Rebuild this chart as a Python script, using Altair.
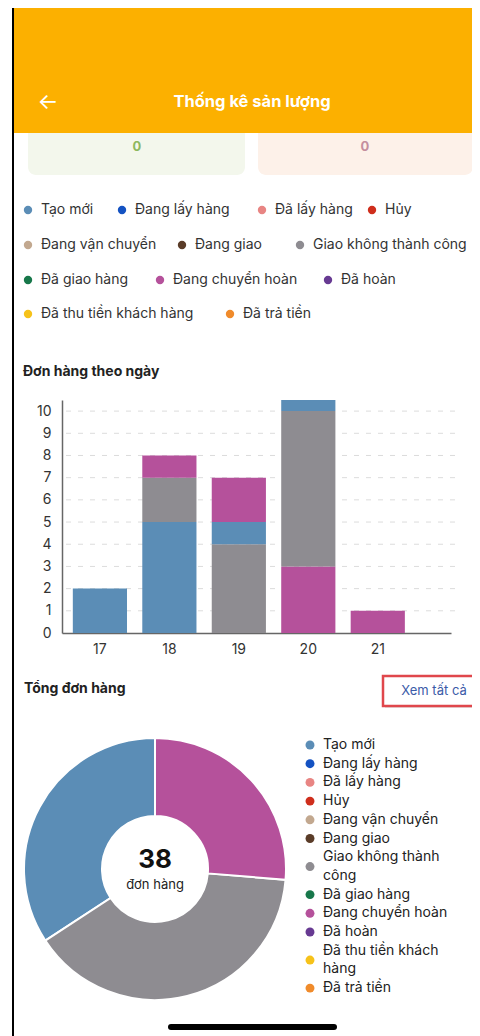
import altair as alt
import pandas as pd

FONT = "Inter"

# ---------------- data ----------------
statuses = ["Tạo mới", "Đang lấy hàng", "Đã lấy hàng", "Hủy", "Đang vận chuyển",
            "Đang giao", "Giao không thành công", "Đã giao hàng", "Đang chuyển hoàn",
            "Đã hoàn", "Đã thu tiền khách hàng", "Đã trả tiền"]
colors = ["#5b8db6", "#1452c2", "#e88583", "#cf2e1c", "#c2a88f", "#5a3c28",
          "#8e8c91", "#17774a", "#b5519b", "#673a92", "#f6c21a", "#f08b2b"]

days = ["17", "18", "19", "20", "21"]
seg_day = ["17", "18", "18", "18", "19", "19", "19", "20", "20", "20", "20", "20", "21"]
seg_status = ["Tạo mới", "Tạo mới", "Giao không thành công", "Đang chuyển hoàn",
              "Giao không thành công", "Tạo mới", "Đang chuyển hoàn",
              "Đang chuyển hoàn", "Giao không thành công", "Tạo mới",
              "Giao không thành công", "Đang chuyển hoàn", "Đang chuyển hoàn"]
seg_value = [2, 5, 2, 1, 4, 1, 2, 3, 7, 5, 2, 3, 1]
y_ticks = list(range(0, 11))

donut_total = [13, 0, 0, 0, 0, 0, 15, 0, 10, 0, 0, 0]
donut_order = ["Đang chuyển hoàn", "Giao không thành công", "Tạo mới"]

card_values = ["0", "0"]

# ---------------- layout (pixels) ----------------
W, H = 464, 1028
top_row = [0, 0, 0, 0, 1, 1, 1, 2, 2, 2, 3, 3]
top_dot_x = [20, 114, 254, 364, 20, 174, 292, 20, 152, 320, 20, 222]
top_row_y = [202, 237, 272, 306]
wraps = {"Giao không thành công": ["Giao không thành", "công"],
         "Đã thu tiền khách hàng": ["Đã thu tiền khách", "hàng"]}
leg_y0, leg_step, leg_dot_x, leg_text_x = 737, 18.7, 302, 315

one = pd.DataFrame({"a": [0]})
cscale = alt.Scale(domain=statuses, range=colors)


def txt(s, x, y, size, color, weight="normal", align="left"):
    return alt.Chart(one).mark_text(
        text=s, align=align, baseline="middle", fontSize=size,
        fontWeight=weight, color=color, font=FONT
    ).encode(x=alt.value(x), y=alt.value(y))


def box(x1, x2, y1, y2, fill, r=0, stroke=None, sw=0):
    kw = dict(fill=fill, cornerRadius=r)
    if stroke:
        kw.update(stroke=stroke, strokeWidth=sw)
    return alt.Chart(one).mark_rect(**kw).encode(
        x=alt.value(x1), x2=alt.value(x2), y=alt.value(y1), y2=alt.value(y2))


# ---------------- header / cards ----------------
layers = []
layers.append(box(20, 237, 110, 167, "#f3f7ec", r=8))
layers.append(box(250, 465, 110, 167, "#fdf1e9", r=8))
layers.append(txt(card_values[0], 129, 139, 13, "#8db85f", "bold", "center"))
layers.append(txt(card_values[1], 357, 139, 13, "#c48e9e", "bold", "center"))
layers.append(box(6, W, 0, 125, "#fcb000"))
layers.append(txt("←", 40, 94, 22, "white", "normal", "center"))
layers.append(txt("Thống kê sản lượng", 244, 94, 16.5, "white", "bold", "center"))
layers.append(box(4, 6, 0, H, "black"))

# ---------------- top legend ----------------
top_df = pd.DataFrame({
    "status": statuses,
    "col": colors,
    "px": top_dot_x,
    "py": [top_row_y[r] for r in top_row],
})
top_df["tx"] = top_df["px"] + 13
layers.append(alt.Chart(top_df).mark_circle(size=70, opacity=1).encode(
    x=alt.X("px:Q", scale=None), y=alt.Y("py:Q", scale=None),
    fill=alt.Fill("col:N", scale=None)))
layers.append(alt.Chart(top_df).mark_text(
    align="left", baseline="middle", fontSize=14, color="#333", font=FONT).encode(
    x=alt.X("tx:Q", scale=None), y=alt.Y("py:Q", scale=None), text="status:N"))

# ---------------- bar chart ----------------
layers.append(txt("Đơn hàng theo ngày", 15, 364, 14, "#222", "bold"))
bar_df = pd.DataFrame({"day": seg_day, "status": seg_status, "value": seg_value})
bar_df["ord"] = bar_df.groupby("day").cumcount()
yscale = alt.Scale(domain=[0, 10.5], range=[625, 392], clamp=True)
yaxis = alt.Axis(title=None, orient="left", values=y_ticks, ticks=False, grid=False,
                 domainColor="#666", domainWidth=1.5, labelFontSize=14,
                 labelColor="#333", labelFont=FONT, labelPadding=11, offset=-54)
grid_df = pd.DataFrame({"v": y_ticks[1:]})
grid = alt.Chart(grid_df).mark_rule(strokeDash=[5, 7], color="#dcdcdc", strokeWidth=1).encode(
    y=alt.Y("v:Q", scale=yscale, axis=yaxis), x=alt.value(58), x2=alt.value(449))
bars = alt.Chart(bar_df).mark_bar().encode(
    x=alt.X("day:N", sort=days,
            scale=alt.Scale(domain=days, range=[54, 443], paddingInner=0.22,
                            paddingOuter=0.41, align=0.19),
            axis=alt.Axis(title=None, orient="bottom", labelAngle=0, ticks=False, grid=False,
                          domainColor="#666", domainWidth=1.5, labelFontSize=14,
                          labelColor="#333", labelFont=FONT, labelPadding=9,
                          offset=-(H - 625))),
    y=alt.Y("value:Q", stack="zero", scale=yscale, axis=yaxis),
    color=alt.Color("status:N", scale=cscale, legend=None),
    order=alt.Order("ord:Q"),
)
layers.append(alt.layer(grid, bars))

# ---------------- donut ----------------
layers.append(txt("Tổng đơn hàng", 16, 681, 14, "#222", "bold"))
layers.append(box(377, W, 670, 700, "#e6e6e6"))
layers.append(box(375, W + 4, 668, 698, "white", stroke="#e0474c", sw=2.5))
layers.append(txt("Xem tất cả", 426, 683, 13, "#3b5ba8", "normal", "center"))

donut_df = pd.DataFrame({"status": statuses, "n": donut_total})
donut_df = donut_df[donut_df["n"] > 0].copy()
donut_df["ord"] = donut_df["status"].map({s: i for i, s in enumerate(donut_order)})
layers.append(alt.Chart(donut_df).mark_arc(
    innerRadius=53, outerRadius=131, stroke="white", strokeWidth=2).encode(
    theta=alt.Theta("n:Q", stack=True),
    color=alt.Color("status:N", scale=cscale, legend=None),
    order=alt.Order("ord:Q"),
    x=alt.value(147), y=alt.value(861)))
layers.append(txt(str(sum(donut_total)), 147, 852, 26, "#111", "bold", "center"))
layers.append(txt("đơn hàng", 147, 877, 13, "#222", "normal", "center"))

# right legend
dot_rows, line_rows = [], []
li = 0
for s, c in zip(statuses, colors):
    parts = wraps.get(s, [s])
    ys = [leg_y0 + leg_step * (li + k) for k in range(len(parts))]
    dot_rows.append({"col": c, "px": leg_dot_x, "py": sum(ys) / len(ys)})
    for p, yv in zip(parts, ys):
        line_rows.append({"t": p, "px": leg_text_x, "py": yv})
    li += len(parts)
dot_df = pd.DataFrame(dot_rows)
line_df = pd.DataFrame(line_rows)
layers.append(alt.Chart(dot_df).mark_circle(size=80, opacity=1).encode(
    x=alt.X("px:Q", scale=None), y=alt.Y("py:Q", scale=None),
    fill=alt.Fill("col:N", scale=None)))
layers.append(alt.Chart(line_df).mark_text(
    align="left", baseline="middle", fontSize=14, color="#222", font=FONT).encode(
    x=alt.X("px:Q", scale=None), y=alt.Y("py:Q", scale=None), text="t:N"))

# home indicator
layers.append(alt.Chart(one).mark_rule(strokeWidth=6, strokeCap="round", color="black").encode(
    x=alt.value(163), x2=alt.value(326), y=alt.value(1019)))

chart = alt.layer(*layers).resolve_scale(x="independent", y="independent").properties(
    width=W, height=H, padding=0, autosize="none", background="white"
).configure_view(stroke=None)

chart.save("out.html", embed_options={"renderer": "svg", "actions": False})
